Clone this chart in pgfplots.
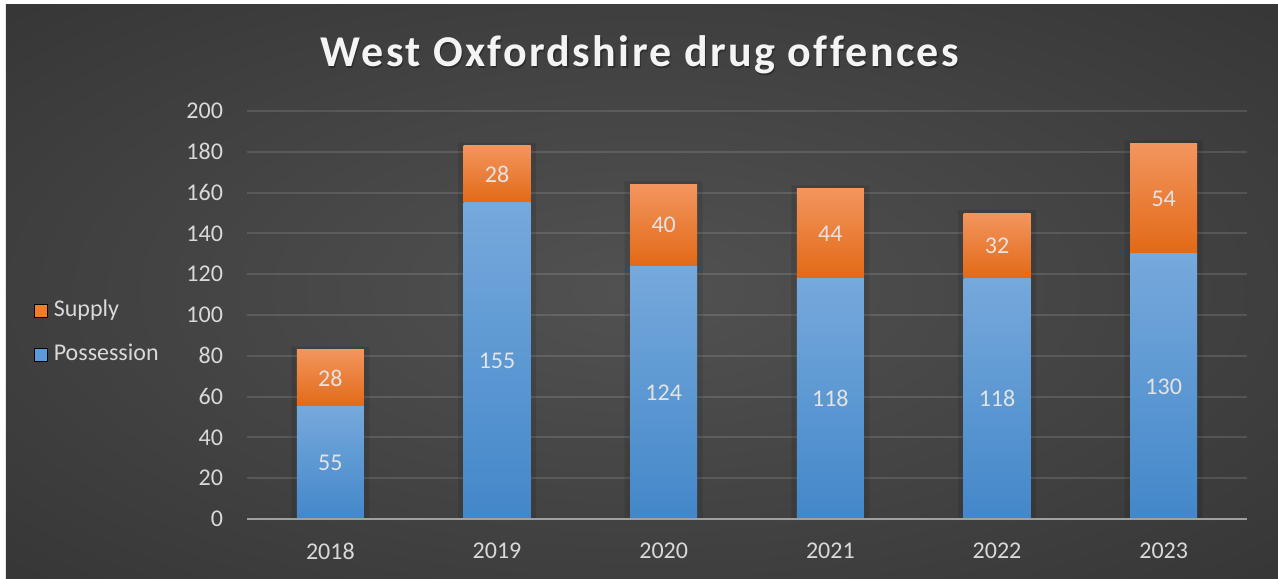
\documentclass[border=0pt]{standalone}
\usepackage{fontspec}
\setmainfont{Carlito}
\newfontfamily\titlefont[LetterSpace=5.5, Ligatures=NoCommon]{Carlito}
\usepackage{pgfplots}
\pgfplotsset{compat=1.18}

\definecolor{tickc}{HTML}{D9D9D9}
\definecolor{labc}{HTML}{E3E3E3}
\definecolor{titlec}{HTML}{F4F4F4}
\definecolor{basec}{HTML}{A0A0A0}
\definecolor{blueT}{HTML}{76A9DC}
\definecolor{blueM}{HTML}{5E9CDB}
\definecolor{blueB}{HTML}{4387C9}
\definecolor{orT}{HTML}{F3955E}
\definecolor{orM}{HTML}{F57F2B}
\definecolor{orB}{HTML}{E26916}
\definecolor{supc}{HTML}{F07C2C}
\definecolor{posc}{HTML}{5B9BD9}

\pgfdeclareradialshading{bgshade}{\pgfpoint{0bp}{0bp}}{rgb(0bp)=(0.32,0.32,0.32); rgb(30bp)=(0.23,0.23,0.23); rgb(50bp)=(0.17,0.17,0.17); rgb(72bp)=(0.14,0.14,0.14)}

\newcommand{\lblfont}{\fontsize{12}{14}\selectfont}
\pgfplotsset{
  base/.style={scale only axis, width=500pt, height=204pt,
    at={(0,0)}, anchor=south west,
    xmin=-0.5, xmax=5.5, ymin=0, ymax=200, enlargelimits=false},
}

% one stacked bar per axis, so that each bar gets its own gradient
% #1 = x position, #2 = possession, #3 = supply
\newcommand{\yearbar}[3]{%
\begin{axis}[base, hide axis, ybar stacked, bar width=33.5pt]
\addplot[draw=none, top color=blueT, middle color=blueM, bottom color=blueB]
  coordinates {(#1,#2)};
\addplot[draw=none, top color=orT, middle color=orM, bottom color=orB]
  coordinates {(#1,#3)};
\end{axis}}

\begin{document}
\begin{tikzpicture}
% background
\fill[white] (-123.5pt,-29.5pt) rectangle (515.5pt,259.5pt);
\shade[shading=bgshade] (-120.5pt,-29.5pt) rectangle (515.5pt,257pt);

% title
\node[font=\titlefont\bfseries\fontsize{22}{26}\selectfont, text=black, opacity=0.3, anchor=base] at (197.1pt,225.4pt) {West Oxfordshire drug offences};
\node[font=\titlefont\bfseries\fontsize{22}{26}\selectfont, text=titlec, anchor=base] at (196.5pt,226pt) {West Oxfordshire drug offences};

% grid, ticks, shadows
\begin{axis}[base, ybar, bar width=39pt,
  ymajorgrids, grid style={draw=white, draw opacity=0.12, line width=1pt},
  ytick={0,20,...,200}, xtick={0,...,5},
  xticklabels={2018,2019,2020,2021,2022,2023},
  axis line style={draw=none}, major tick length=0pt,
  ticklabel style={font=\lblfont, text=tickc},
  yticklabel style={xshift=-8.5pt}, xticklabel style={yshift=-8.6pt},
  /pgf/number format/assume math mode=true]
\addplot[fill=black, fill opacity=0.1, draw=none]
  coordinates {(0,84.5) (1,184.5) (2,165.5) (3,163.5) (4,151.5) (5,185.5)};
\end{axis}

% stacked bars: possession, supply
\yearbar{0}{55}{28}
\yearbar{1}{155}{28}
\yearbar{2}{124}{40}
\yearbar{3}{118}{44}
\yearbar{4}{118}{32}
\yearbar{5}{130}{54}

% labels, legend, baseline
\begin{axis}[base, hide axis, clip=false,
  nodes near coords, point meta=explicit symbolic,
  every node near coord/.append style={anchor=center, font=\lblfont, text=labc},
  legend cell align=left,
  legend image code/.code={\fill[#1] (0pt,-3.25pt) rectangle (6.5pt,3.25pt);},
  legend style={at={(axis description cs:-0.213,0.457)}, anchor=west,
    draw=none, fill=none, inner sep=0pt, outer sep=0pt,
    font=\lblfont, text=tickc, row sep=8pt,
    nodes={inner sep=1.5pt, text height=8.5pt, text depth=2.5pt},
    /tikz/every odd column/.append style={column sep=1.5pt}}]
\addlegendimage{fill=supc}
\addlegendentry{Supply}
\addlegendimage{fill=posc}
\addlegendentry{Possession}
\draw[basec, line width=1.2pt] (axis cs:-0.5,0) -- (axis cs:5.5,0);
\addplot[draw=none, forget plot]
  coordinates {(0,27.5)[55] (1,77.5)[155] (2,62)[124] (3,59)[118] (4,59)[118] (5,65)[130]};
\addplot[draw=none, forget plot]
  coordinates {(0,69)[28] (1,169)[28] (2,144)[40] (3,140)[44] (4,134)[32] (5,157)[54]};
\end{axis}

\pgfresetboundingbox
\useasboundingbox (-123.5pt,-29.5pt) rectangle (515.5pt,259.5pt);
\end{tikzpicture}
\end{document}
